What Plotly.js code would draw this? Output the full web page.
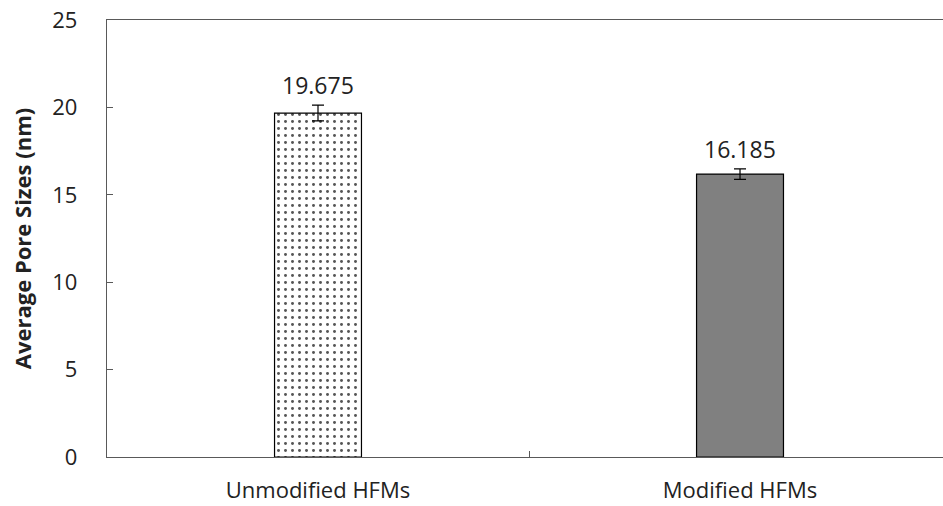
<!DOCTYPE html>
<html><head><meta charset="utf-8">
<script src="https://cdn.plot.ly/plotly-3.0.1.min.js"></script>
<style>html,body{margin:0;padding:0;background:#fff}</style>
</head><body>
<div id="chart" style="width:943px;height:506px"></div>
<script>
const categories = ["Unmodified HFMs", "Modified HFMs"];
const values = [19.675, 16.185];
const errors = [0.45, 0.3];
const labels = ["19.675", "16.185"];
const yTicks = [0, 5, 10, 15, 20, 25];

const FONT = "Open Sans, sans-serif";

const traces = [
  {
    type: "bar",
    x: [categories[0]],
    y: [values[0]],
    width: 0.206,
    marker: {
      color: "#ffffff",
      line: {color: "#000000", width: 1.2},
      pattern: {shape: ".", fgcolor: "#555555", bgcolor: "#ffffff", size: 7, solidity: 0.14, fillmode: "replace"}
    },
    error_y: {type: "data", array: [errors[0]], visible: true, color: "#000000", thickness: 1.2, width: 6},
    hoverinfo: "skip"
  },
  {
    type: "bar",
    x: [categories[1]],
    y: [values[1]],
    width: 0.206,
    marker: {color: "#808080", line: {color: "#000000", width: 1.2}},
    error_y: {type: "data", array: [errors[1]], visible: true, color: "#000000", thickness: 1.2, width: 6},
    hoverinfo: "skip"
  }
];

const annotations = categories.map((c, i) => ({
  x: c, y: values[i] + errors[i], xref: "x", yref: "y",
  text: labels[i], showarrow: false, yanchor: "bottom", yshift: 2,
  font: {family: FONT, size: 23, color: "#222222"}
}));

const layout = {
  width: 943, height: 506,
  margin: {l: 107, r: 0, t: 20, b: 49},
  paper_bgcolor: "#ffffff", plot_bgcolor: "#ffffff",
  showlegend: false,
  barmode: "overlay",
  font: {family: FONT, size: 23, color: "#222222"},
  xaxis: {
    type: "category", categoryarray: categories, categoryorder: "array",
    range: [-0.5, 1.481], tickson: "boundaries",
    ticks: "inside", ticklen: 6, tickcolor: "#595959",
    showline: true, linecolor: "#595959", linewidth: 1.3, mirror: true,
    showgrid: false, zeroline: false, ticklabelstandoff: 13,
    tickfont: {family: FONT, size: 22, color: "#222222"}
  },
  yaxis: {
    range: [0, 25], tickvals: yTicks, ticktext: yTicks.map(String),
    ticks: "inside", ticklen: 6, tickcolor: "#595959",
    showline: true, linecolor: "#595959", linewidth: 1.3,
    showgrid: false, zeroline: false, ticklabelstandoff: 24,
    tickfont: {family: FONT, size: 22, color: "#222222"},
    title: {text: "<b>Average Pore Sizes (nm)</b>", font: {family: FONT, size: 22, color: "#222222"}, standoff: 14}
  },
  annotations: annotations
};

Plotly.newPlot("chart", traces, layout, {displayModeBar: false, staticPlot: true});
</script>
</body></html>
